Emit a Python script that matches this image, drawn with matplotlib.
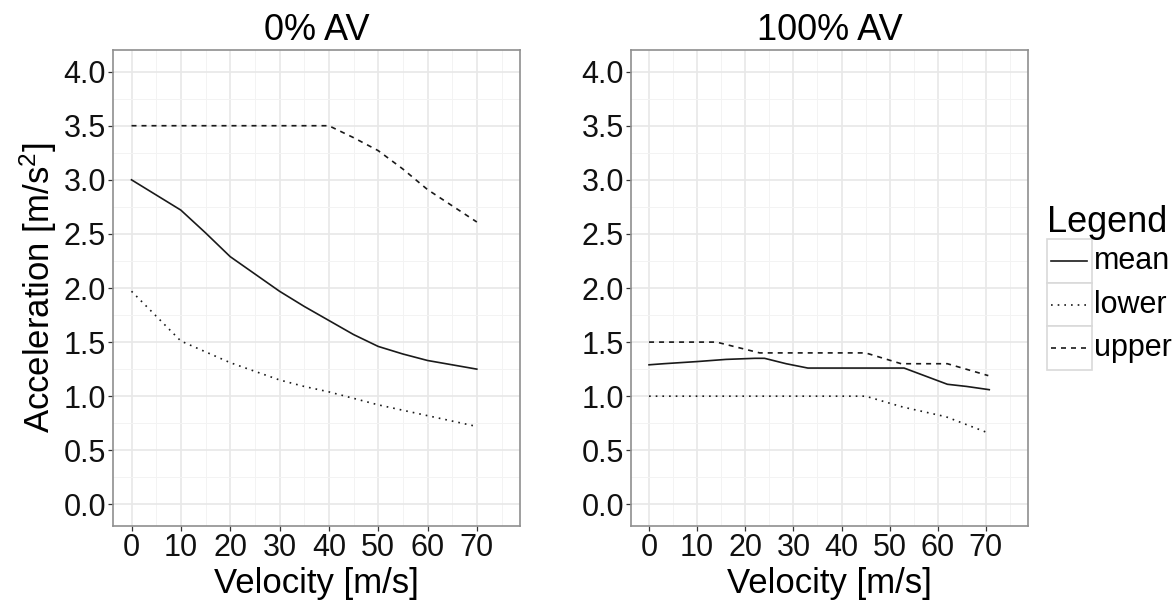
import matplotlib
matplotlib.use("Agg")
import matplotlib.pyplot as plt
from matplotlib.patches import Rectangle
import numpy as np

plt.rcParams['font.family'] = ['Liberation Sans', 'DejaVu Sans']
plt.rcParams['mathtext.fontset'] = 'custom'
plt.rcParams['mathtext.rm'] = 'Liberation Sans'
plt.rcParams['mathtext.it'] = 'Liberation Sans'

# 0% AV panel
av0_v = [0, 5, 10, 15, 20, 25, 30, 35, 40, 45, 50, 55, 60, 65, 70]
av0_mean = [3.0, 2.86, 2.72, 2.51, 2.29, 2.13, 1.97, 1.83, 1.70, 1.57, 1.46, 1.39, 1.33, 1.29, 1.25]
av0_lower = [1.97, 1.74, 1.51, 1.41, 1.31, 1.23, 1.15, 1.09, 1.04, 0.98, 0.92, 0.87, 0.82, 0.77, 0.72]
av0_upper = [3.5, 3.5, 3.5, 3.5, 3.5, 3.5, 3.5, 3.5, 3.5, 3.39, 3.27, 3.10, 2.91, 2.76, 2.61]

# 100% AV panel
av100_mean_v = [0, 3, 10, 16, 22, 24, 28.5, 33, 53, 62, 66, 70.7]
av100_mean = [1.29, 1.30, 1.32, 1.34, 1.35, 1.35, 1.30, 1.26, 1.26, 1.11, 1.09, 1.06]
av100_lower_v = [0, 45, 52.7, 61.7, 70.5]
av100_lower = [1.0, 1.0, 0.90, 0.81, 0.66]
av100_upper_v = [0, 14, 23, 45, 52.4, 62, 70.5]
av100_upper = [1.5, 1.5, 1.4, 1.4, 1.3, 1.3, 1.19]

titles = ["0% AV", "100% AV"]
legend_labels = ["mean", "lower", "upper"]

W, H = 1176, 604
fig = plt.figure(figsize=(W / 100, H / 100), dpi=100)

dash = {'mean': '-', 'lower': (0, (1, 3)), 'upper': (0, (3, 3))}
lw = 1.2
lc = '#1a1a1a'


def style(ax, title):
    ax.set_xlim(-3.75, 78.75)
    ax.set_ylim(-0.2, 4.2)
    ax.set_xticks(np.arange(0, 71, 10))
    ax.set_xticks(np.arange(5, 76, 10), minor=True)
    ax.set_yticks(np.arange(0, 4.01, 0.5))
    ax.set_yticks(np.arange(0.25, 4.0, 0.5), minor=True)
    ax.set_yticklabels([f"{v:.1f}" for v in np.arange(0, 4.01, 0.5)])
    ax.grid(which='major', color='#e8e8e8', lw=1.2)
    ax.grid(which='minor', color='#f3f3f3', lw=0.7)
    ax.set_axisbelow(True)
    for s in ax.spines.values():
        s.set_color('#8f8f8f')
        s.set_linewidth(1.2)
    ax.tick_params(which='major', length=3.5, width=0.9, color='#333333',
                   labelsize=22, labelcolor='#111111', pad=1.5)
    ax.tick_params(which='minor', length=0)
    ax.set_title(title, fontsize=26, pad=7)
    ax.set_xlabel("Velocity [m/s]", fontsize=25, labelpad=3)


ax1 = fig.add_axes([113 / W, 1 - 526 / H, 407 / W, 476 / H])
ax1.plot(av0_v, av0_mean, color=lc, lw=lw, ls=dash['mean'])
ax1.plot(av0_v, av0_lower, color=lc, lw=lw, ls=dash['lower'])
ax1.plot(av0_v, av0_upper, color=lc, lw=lw, ls=dash['upper'])
style(ax1, titles[0])
ax1.set_ylabel("Acceleration [m/s$^2$]", fontsize=25, labelpad=3)

ax2 = fig.add_axes([631 / W, 1 - 526 / H, 397 / W, 476 / H])
ax2.plot(av100_mean_v, av100_mean, color=lc, lw=lw, ls=dash['mean'])
ax2.plot(av100_lower_v, av100_lower, color=lc, lw=lw, ls=dash['lower'])
ax2.plot(av100_upper_v, av100_upper, color=lc, lw=lw, ls=dash['upper'])
style(ax2, titles[1])

# legend drawn in pixel space
lax = fig.add_axes([0, 0, 1, 1], facecolor='none')
lax.set_xlim(0, W)
lax.set_ylim(H, 0)
lax.axis('off')
lax.text(1047, 232, "Legend", fontsize=26, ha='left', va='baseline')
key_top = 239
key_h = 43.7
for i, lab in enumerate(legend_labels):
    y0 = key_top + i * key_h
    lax.add_patch(Rectangle((1047, y0), 45, key_h, facecolor='white',
                            edgecolor='#d9d9d9', lw=1.2))
    yc = y0 + key_h / 2
    lax.plot([1051, 1087], [yc, yc], color=lc, lw=lw, ls=dash[lab])
    lax.text(1094, yc, lab, fontsize=22, ha='left', va='center')

fig.savefig("out.png", dpi=100)
